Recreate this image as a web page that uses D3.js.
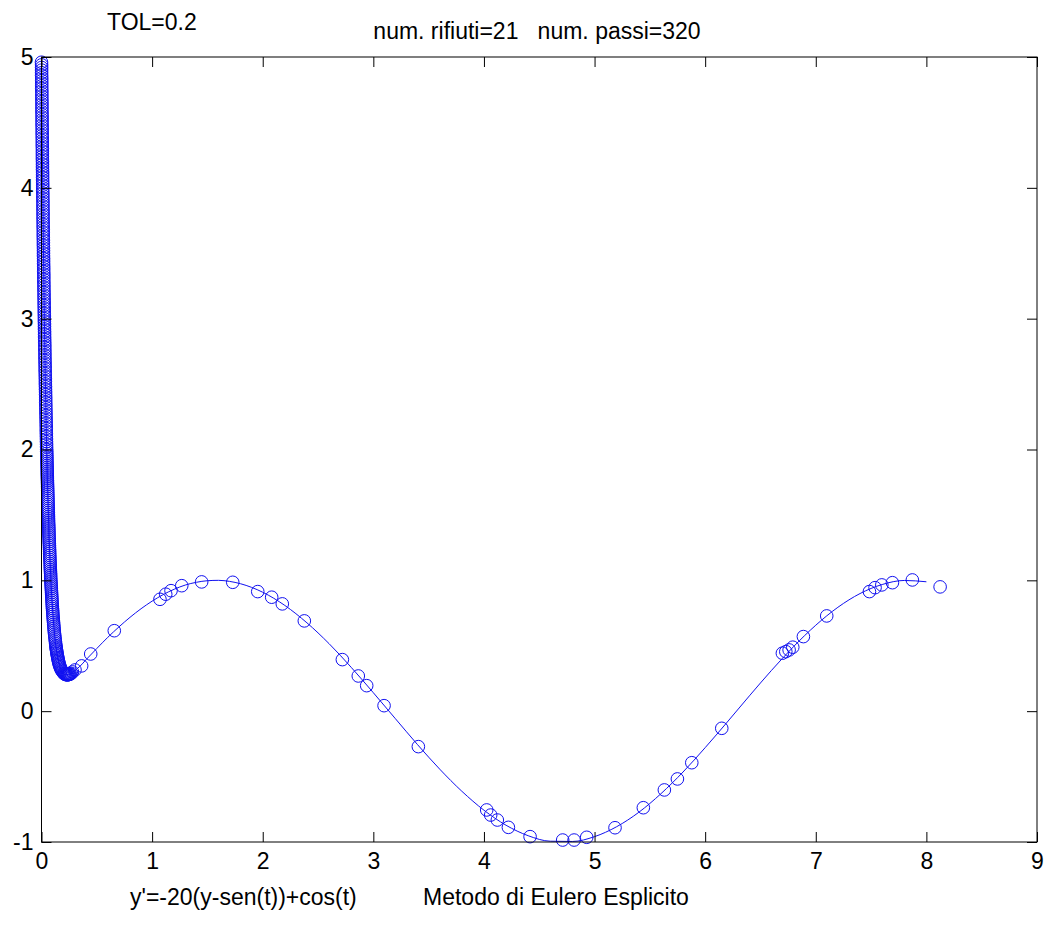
<!DOCTYPE html>
<html>
<head>
<meta charset="utf-8">
<script src="https://cdn.jsdelivr.net/npm/d3@7"></script>
<style>
  html, body { margin: 0; padding: 0; background: #fff; }
  svg text { font-family: "Liberation Sans", Arial, Helvetica, sans-serif; fill: #000; }
</style>
</head>
<body>
<svg id="chart" width="1049" height="927"></svg>
<script>
// Exact solution y(t) of y' = -20(y - sin t) + cos t, y(0) = 5, sampled along t
const exactCurve = [
  [0,5],[0.005,4.53],[0.01,4.11],[0.015,3.73],[0.02,3.37],[0.03,2.77],[0.04,2.29],
  [0.05,1.89],[0.06,1.57],[0.07,1.30],[0.08,1.09],[0.09,0.92],[0.10,0.78],[0.12,0.57],
  [0.14,0.44],[0.16,0.36],[0.18,0.31],[0.20,0.29],[0.23,0.278],[0.26,0.285],[0.30,0.31],
  [0.35,0.345],[0.4,0.391],[0.5,0.479],[0.6,0.565],[0.7,0.644],[0.8,0.717],[0.9,0.783],
  [1.0,0.841],[1.1,0.891],[1.2,0.932],[1.3,0.964],[1.4,0.985],[1.5,0.997],[1.6,1.0],
  [1.7,0.992],[1.8,0.974],[1.9,0.946],[2.0,0.909],[2.2,0.808],[2.4,0.675],[2.6,0.516],
  [2.8,0.335],[3.0,0.141],[3.2,-0.058],[3.4,-0.256],[3.6,-0.443],[3.8,-0.612],[4.0,-0.757],
  [4.2,-0.872],[4.4,-0.952],[4.6,-0.994],[4.8,-0.996],[5.0,-0.959],[5.2,-0.883],[5.4,-0.773],
  [5.6,-0.631],[5.8,-0.465],[6.0,-0.279],[6.2,-0.083],[6.4,0.117],[6.6,0.312],[6.8,0.494],
  [7.0,0.657],[7.2,0.794],[7.4,0.899],[7.6,0.968],[7.8,0.999],[8.0,0.989]
];

// Explicit Euler steps during the stiff transient (very small steps), [t, y]
const transientSteps = [
  [0.000,4.96],[0.001,4.94],[0.001,4.92],[0.001,4.90],[0.001,4.88],[0.001,4.86],[0.002,4.84],
  [0.002,4.82],[0.002,4.80],[0.002,4.78],[0.002,4.76],[0.003,4.74],[0.003,4.72],[0.003,4.70],
  [0.003,4.68],[0.004,4.66],[0.004,4.64],[0.004,4.62],[0.004,4.60],[0.004,4.58],[0.005,4.56],
  [0.005,4.54],[0.005,4.52],[0.005,4.50],[0.005,4.48],[0.006,4.46],[0.006,4.44],[0.006,4.42],
  [0.006,4.40],[0.007,4.38],[0.007,4.36],[0.007,4.34],[0.007,4.32],[0.008,4.30],[0.008,4.28],
  [0.008,4.26],[0.008,4.24],[0.008,4.22],[0.009,4.20],[0.009,4.18],[0.009,4.16],[0.009,4.14],
  [0.010,4.12],[0.010,4.10],[0.010,4.08],[0.010,4.06],[0.011,4.04],[0.011,4.02],[0.011,4.00],
  [0.011,3.98],[0.012,3.96],[0.012,3.94],[0.012,3.92],[0.013,3.90],[0.013,3.88],[0.013,3.86],
  [0.013,3.84],[0.014,3.82],[0.014,3.80],[0.014,3.78],[0.014,3.76],[0.015,3.74],[0.015,3.72],
  [0.015,3.70],[0.016,3.68],[0.016,3.66],[0.016,3.64],[0.016,3.62],[0.017,3.60],[0.017,3.58],
  [0.017,3.56],[0.018,3.54],[0.018,3.52],[0.018,3.50],[0.018,3.48],[0.019,3.46],[0.019,3.44],
  [0.019,3.42],[0.020,3.40],[0.020,3.38],[0.020,3.36],[0.021,3.34],[0.021,3.32],[0.021,3.30],
  [0.021,3.28],[0.022,3.26],[0.022,3.24],[0.022,3.22],[0.023,3.20],[0.023,3.18],[0.023,3.16],
  [0.024,3.14],[0.024,3.12],[0.024,3.10],[0.025,3.08],[0.025,3.06],[0.025,3.04],[0.026,3.02],
  [0.026,3.00],[0.026,2.98],[0.027,2.96],[0.027,2.94],[0.027,2.92],[0.028,2.90],[0.028,2.88],
  [0.028,2.86],[0.029,2.84],[0.029,2.82],[0.030,2.80],[0.030,2.78],[0.030,2.76],[0.031,2.74],
  [0.031,2.72],[0.031,2.70],[0.032,2.68],[0.032,2.66],[0.033,2.64],[0.033,2.62],[0.033,2.60],
  [0.034,2.58],[0.034,2.56],[0.035,2.54],[0.035,2.52],[0.035,2.50],[0.036,2.48],[0.036,2.46],
  [0.037,2.44],[0.037,2.42],[0.038,2.40],[0.038,2.38],[0.038,2.36],[0.039,2.34],[0.039,2.32],
  [0.040,2.30],[0.040,2.28],[0.041,2.26],[0.041,2.24],[0.042,2.22],[0.042,2.20],[0.043,2.18],
  [0.043,2.16],[0.043,2.14],[0.044,2.12],[0.044,2.10],[0.045,2.08],[0.045,2.06],[0.046,2.04],
  [0.046,2.02],[0.047,2.00],[0.047,1.985],[0.048,1.97],[0.048,1.955],[0.049,1.94],[0.049,1.925],
  [0.049,1.91],[0.050,1.895],[0.050,1.88],[0.051,1.865],[0.051,1.85],[0.052,1.835],[0.052,1.82],
  [0.052,1.805],[0.053,1.79],[0.053,1.775],[0.054,1.76],[0.054,1.745],[0.055,1.73],[0.055,1.715],
  [0.056,1.70],[0.056,1.685],[0.057,1.67],[0.057,1.655],[0.058,1.64],[0.058,1.625],[0.059,1.61],
  [0.059,1.595],[0.060,1.58],[0.060,1.565],[0.061,1.55],[0.061,1.535],[0.062,1.52],[0.062,1.505],
  [0.063,1.49],[0.063,1.475],[0.064,1.46],[0.064,1.445],[0.065,1.43],[0.066,1.415],[0.066,1.40],
  [0.067,1.385],[0.067,1.37],[0.068,1.355],[0.068,1.34],[0.069,1.325],[0.070,1.31],[0.070,1.295],
  [0.071,1.28],[0.072,1.265],[0.072,1.25],[0.073,1.235],[0.074,1.22],[0.074,1.205],[0.075,1.19],
  [0.076,1.175],[0.076,1.16],[0.077,1.145],[0.078,1.13],[0.079,1.115],[0.079,1.10],[0.080,1.085],
  [0.081,1.07],[0.082,1.055],[0.083,1.04],[0.083,1.025],[0.084,1.01],[0.085,0.995],[0.086,0.98],
  [0.087,0.965],[0.088,0.95],[0.089,0.935],[0.090,0.92],[0.091,0.905],[0.092,0.89],[0.093,0.875],
  [0.094,0.86],[0.095,0.845],[0.096,0.83],[0.097,0.815],[0.098,0.80],[0.099,0.785],[0.101,0.77],
  [0.102,0.755],[0.103,0.74],[0.104,0.725],[0.106,0.71],[0.107,0.695],[0.109,0.68],[0.110,0.665],
  [0.112,0.65],[0.113,0.635],[0.115,0.62],[0.116,0.605],[0.118,0.59],[0.120,0.575],[0.122,0.56],
  [0.124,0.545],[0.126,0.53],[0.128,0.515],[0.130,0.50],[0.132,0.49],[0.133,0.48],[0.135,0.47],
  [0.137,0.46],[0.139,0.45],[0.140,0.44],[0.142,0.43],[0.145,0.42],[0.147,0.41],[0.149,0.40],
  [0.152,0.39],[0.154,0.38],[0.157,0.37],[0.160,0.36],[0.164,0.35],[0.167,0.34],[0.172,0.33],
  [0.177,0.32],[0.182,0.312],[0.188,0.305],[0.194,0.298],[0.200,0.290],[0.205,0.287],[0.210,0.284],
  [0.215,0.282],[0.220,0.280],[0.225,0.279],[0.230,0.278],[0.235,0.278],[0.240,0.279],[0.245,0.280],
  [0.250,0.281],[0.255,0.283],[0.260,0.285],[0.270,0.289]
];

// Explicit Euler steps once the solution follows sin(t) (larger, accepted steps), [t, y]
const smoothSteps = [
  [0.28,0.300],[0.303,0.315],[0.363,0.346],[0.445,0.437],[0.658,0.615],[1.071,0.855],
  [1.123,0.894],[1.171,0.921],[1.268,0.959],[1.448,0.988],[1.729,0.985],[1.955,0.914],
  [2.081,0.871],[2.177,0.820],[2.376,0.690],[2.720,0.394],[2.864,0.269],[2.940,0.195],
  [3.097,0.042],[3.407,-0.271],[4.025,-0.755],[4.061,-0.794],[4.121,-0.832],[4.221,-0.888],
  [4.417,-0.959],[4.712,-0.985],[4.815,-0.985],[4.929,-0.964],[5.185,-0.891],[5.441,-0.738],
  [5.631,-0.602],[5.749,-0.518],[5.879,-0.394],[6.150,-0.131],[6.698,0.443],[6.729,0.455],
  [6.759,0.468],[6.792,0.489],[6.888,0.570],[7.099,0.728],[7.485,0.914],[7.536,0.944],
  [7.597,0.965],[7.693,0.982],[7.873,1.003],[8.124,0.950]
];

const xTicks = [0,1,2,3,4,5,6,7,8,9];
const yTicks = [-1,0,1,2,3,4,5];

const tolLabel = "TOL=0.2";
const titleLabel = "num. rifiuti=21   num. passi=320";
const equationLabel = "y'=-20(y-sen(t))+cos(t)";
const methodLabel = "Metodo di Eulero Esplicito";

const svg = d3.select("#chart");
const plotLeft = 41.5, plotRight = 1037, plotTop = 57, plotBottom = 842;
const x = d3.scaleLinear().domain([0, 9]).range([plotLeft, plotRight]);
const y = d3.scaleLinear().domain([-1, 5]).range([plotBottom, plotTop]);

const blue = "#1010f0";
const fontSize = 23;
// plain ASCII hyphen for negative tick labels
const plainNumber = d => String(d);

// exact solution line
svg.append("path")
  .datum(exactCurve)
  .attr("fill", "none")
  .attr("stroke", blue)
  .attr("stroke-width", 1)
  .attr("d", d3.line().x(d => x(d[0])).y(d => y(d[1])).curve(d3.curveMonotoneX));

// Euler steps as circle markers
const steps = transientSteps.concat(smoothSteps);
svg.append("g").selectAll("circle")
  .data(steps)
  .join("circle")
  .attr("cx", d => x(d[0]))
  .attr("cy", d => y(d[1]))
  .attr("r", 6.3)
  .attr("fill", "none")
  .attr("stroke", blue)
  .attr("stroke-width", 1);

// axes box with inward ticks on all four sides
const tickLen = 10;
const axisStyle = g => {
  g.select(".domain").remove();
  g.selectAll(".tick line").attr("stroke", "#000");
  g.selectAll(".tick text").attr("font-size", fontSize).attr("fill", "#000")
    .attr("font-family", '"Liberation Sans", Arial, sans-serif');
};

svg.append("g").attr("transform", `translate(0,${plotBottom})`)
  .call(d3.axisBottom(x).tickValues(xTicks).tickFormat(plainNumber)
    .tickSizeInner(-tickLen).tickSizeOuter(0).tickPadding(11))
  .call(axisStyle);

svg.append("g").attr("transform", `translate(0,${plotTop})`)
  .call(d3.axisTop(x).tickValues(xTicks).tickFormat("")
    .tickSizeInner(-tickLen).tickSizeOuter(0))
  .call(axisStyle);

svg.append("g").attr("transform", `translate(${plotLeft},0)`)
  .call(d3.axisLeft(y).tickValues(yTicks).tickFormat(plainNumber)
    .tickSizeInner(-tickLen).tickSizeOuter(0).tickPadding(8))
  .call(axisStyle);

svg.append("g").attr("transform", `translate(${plotRight},0)`)
  .call(d3.axisRight(y).tickValues(yTicks).tickFormat("")
    .tickSizeInner(-tickLen).tickSizeOuter(0))
  .call(axisStyle);

svg.append("rect")
  .attr("x", plotLeft).attr("y", plotTop)
  .attr("width", plotRight - plotLeft).attr("height", plotBottom - plotTop)
  .attr("fill", "none").attr("stroke", "#000").attr("stroke-width", 1);

// labels
svg.append("text").attr("x", 107).attr("y", 30).attr("font-size", fontSize).text(tolLabel);
svg.append("text").attr("x", 537).attr("y", 39)
  .attr("text-anchor", "middle").attr("font-size", fontSize)
  .style("white-space", "pre").text(titleLabel);
svg.append("text").attr("x", 130).attr("y", 905).attr("font-size", fontSize).text(equationLabel);
svg.append("text").attr("x", 423).attr("y", 905).attr("font-size", fontSize).text(methodLabel);
</script>
</body>
</html>
